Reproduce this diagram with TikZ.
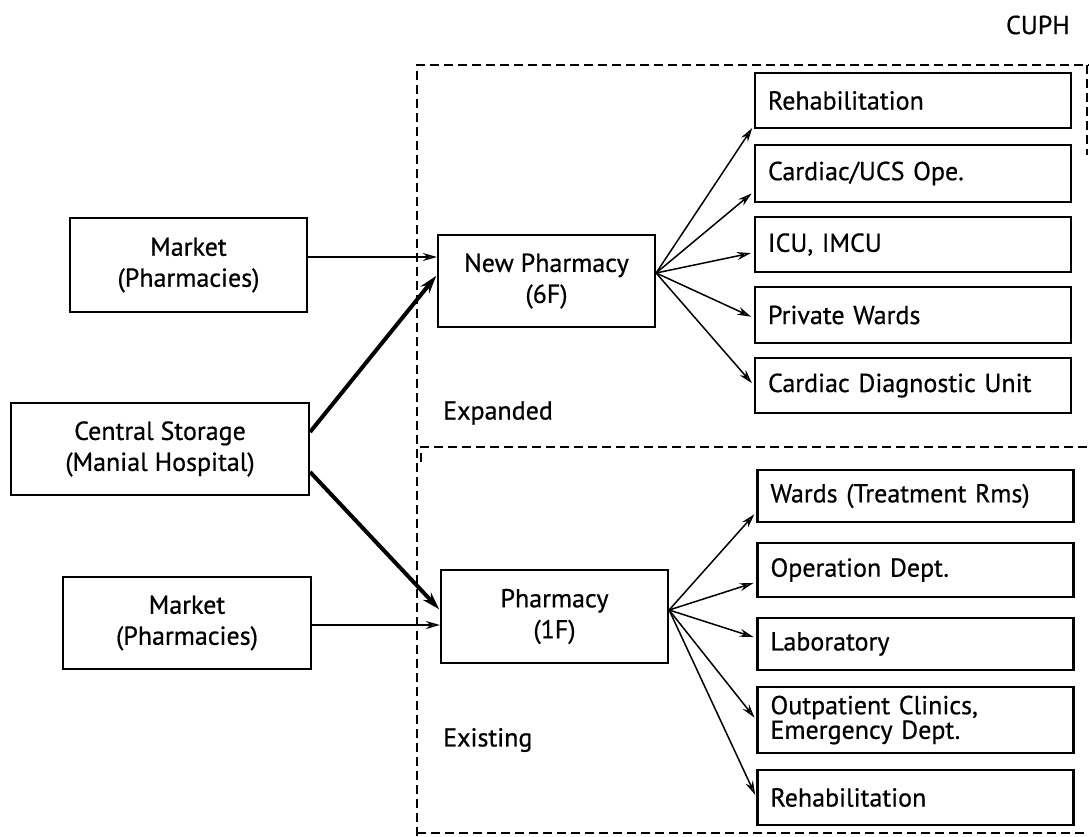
\documentclass[tikz,border=0pt]{standalone}
\usepackage{fontspec}
\setmainfont{PT Sans}[FakeBold=0.6]
\usetikzlibrary{arrows.meta,calc}
\begin{document}
\begin{tikzpicture}[x=1pt,y=-1pt,
  box/.style={draw,line width=2.2pt,align=center,inner sep=0pt,font=\fontsize{26}{31}\selectfont},
  dest/.style={draw,line width=2.2pt,minimum width=316pt,text width=290pt,inner xsep=13pt,inner ysep=0pt,align=left,font=\fontsize{26}{23}\selectfont},
  region/.style={line width=2.2pt,dash pattern=on 9pt off 5pt},
  thinarrow/.style={line width=1.5pt,-{Stealth[length=14pt,width=8pt,open]},shorten >=3pt},
  thickarrow/.style={line width=4pt,-{Stealth[length=18pt,width=11pt]},shorten >=1pt},
  lbl/.style={font=\fontsize{26}{31}\selectfont,inner sep=0pt}]
\useasboundingbox[fill=white] (0,0) rectangle (1089,836);

% region borders
\draw[region] (417,836) -- (417,65) -- (1089,65);
\draw[region] (1087,65) -- (1087,155);
\draw[region] (421,462) -- (421,447) -- (1089,447);
\draw[region] (417,833) -- (1089,833);

% left column
\node[box,minimum width=237pt,minimum height=94pt] (m1) at (188.5,265) {Market\\(Pharmacies)};
\node[box,minimum width=298pt,minimum height=92pt] (cs) at (160,449) {Central Storage\\(Manial Hospital)};
\node[box,minimum width=248pt,minimum height=92pt] (m2) at (187,623) {Market\\(Pharmacies)};

% pharmacies
\node[box,minimum width=217pt,minimum height=92pt] (np) at (546.5,281) {New Pharmacy\\(6F)};
\node[box,minimum width=227pt,minimum height=93pt] (ph) at (554.5,616.5) {Pharmacy\\(1F)};

% expanded destinations
\node[dest,minimum height=55pt] (e1) at (913,100.5) {Rehabilitation};
\node[dest,minimum height=57pt] (e2) at (913,173.5) {Cardiac/UCS Ope.};
\node[dest,minimum height=55pt] (e3) at (913,244.5) {ICU, IMCU};
\node[dest,minimum height=56pt] (e4) at (913,315) {Private Wards};
\node[dest,minimum height=55pt] (e5) at (913,385.5) {Cardiac Diagnostic Unit};

% existing destinations
\node[dest,minimum height=52pt] (x1) at (915.5,496) {Wards (Treatment Rms)};
\node[dest,minimum height=54pt] (x2) at (915.5,570) {Operation Dept.};
\node[dest,minimum height=52pt] (x3) at (915.5,644) {Laboratory};
\node[dest,minimum height=66pt] (x4) at (915.5,720) {Outpatient Clinics,\\Emergency Dept.};
\node[dest,minimum height=55pt] (x5) at (915.5,797.5) {Rehabilitation};

% labels
\node[lbl,anchor=west] (lexp) at (443,413) {Expanded};
\node[lbl,anchor=west] (lexi) at (443,740) {Existing};
\node[lbl,anchor=east] (cuph) at (1070,25) {CUPH};

% fan origins
\coordinate (fe) at ([yshift=8pt]np.east);
\coordinate (fx) at ([yshift=6.5pt]ph.east);

% arrows into pharmacies
\draw[thinarrow,shorten >=0pt] ([yshift=8pt]m1.east) -- ([yshift=8pt]m1.east -| np.west);
\draw[thinarrow,shorten >=0pt] ([yshift=-2pt]m2.east) -- ([yshift=-2pt]m2.east -| ph.west);
\draw[thickarrow] ([yshift=17pt]cs.east) -- ([yshift=6pt]np.west);
\draw[thickarrow] ([yshift=-23pt]cs.east) -- ([yshift=6.5pt]ph.west);

% expanded fan
\draw[thinarrow] (fe) -- ([yshift=-25pt]e1.west);
\draw[thinarrow] (fe) -- ([yshift=-18pt]e2.west);
\draw[thinarrow] (fe) -- ([yshift=-8pt]e3.west);
\draw[thinarrow] (fe) -- ([yshift=-3pt]e4.west);
\draw[thinarrow] (fe) -- (e5.west);

% existing fan
\draw[thinarrow] (fx) -- ([yshift=-16pt]x1.west);
\draw[thinarrow] (fx) -- ([yshift=-12pt]x2.west);
\draw[thinarrow] (fx) -- ([yshift=6pt]x3.west);
\draw[thinarrow] (fx) -- (x4.west);
\draw[thinarrow] (fx) -- (x5.west);
\end{tikzpicture}
\end{document}
